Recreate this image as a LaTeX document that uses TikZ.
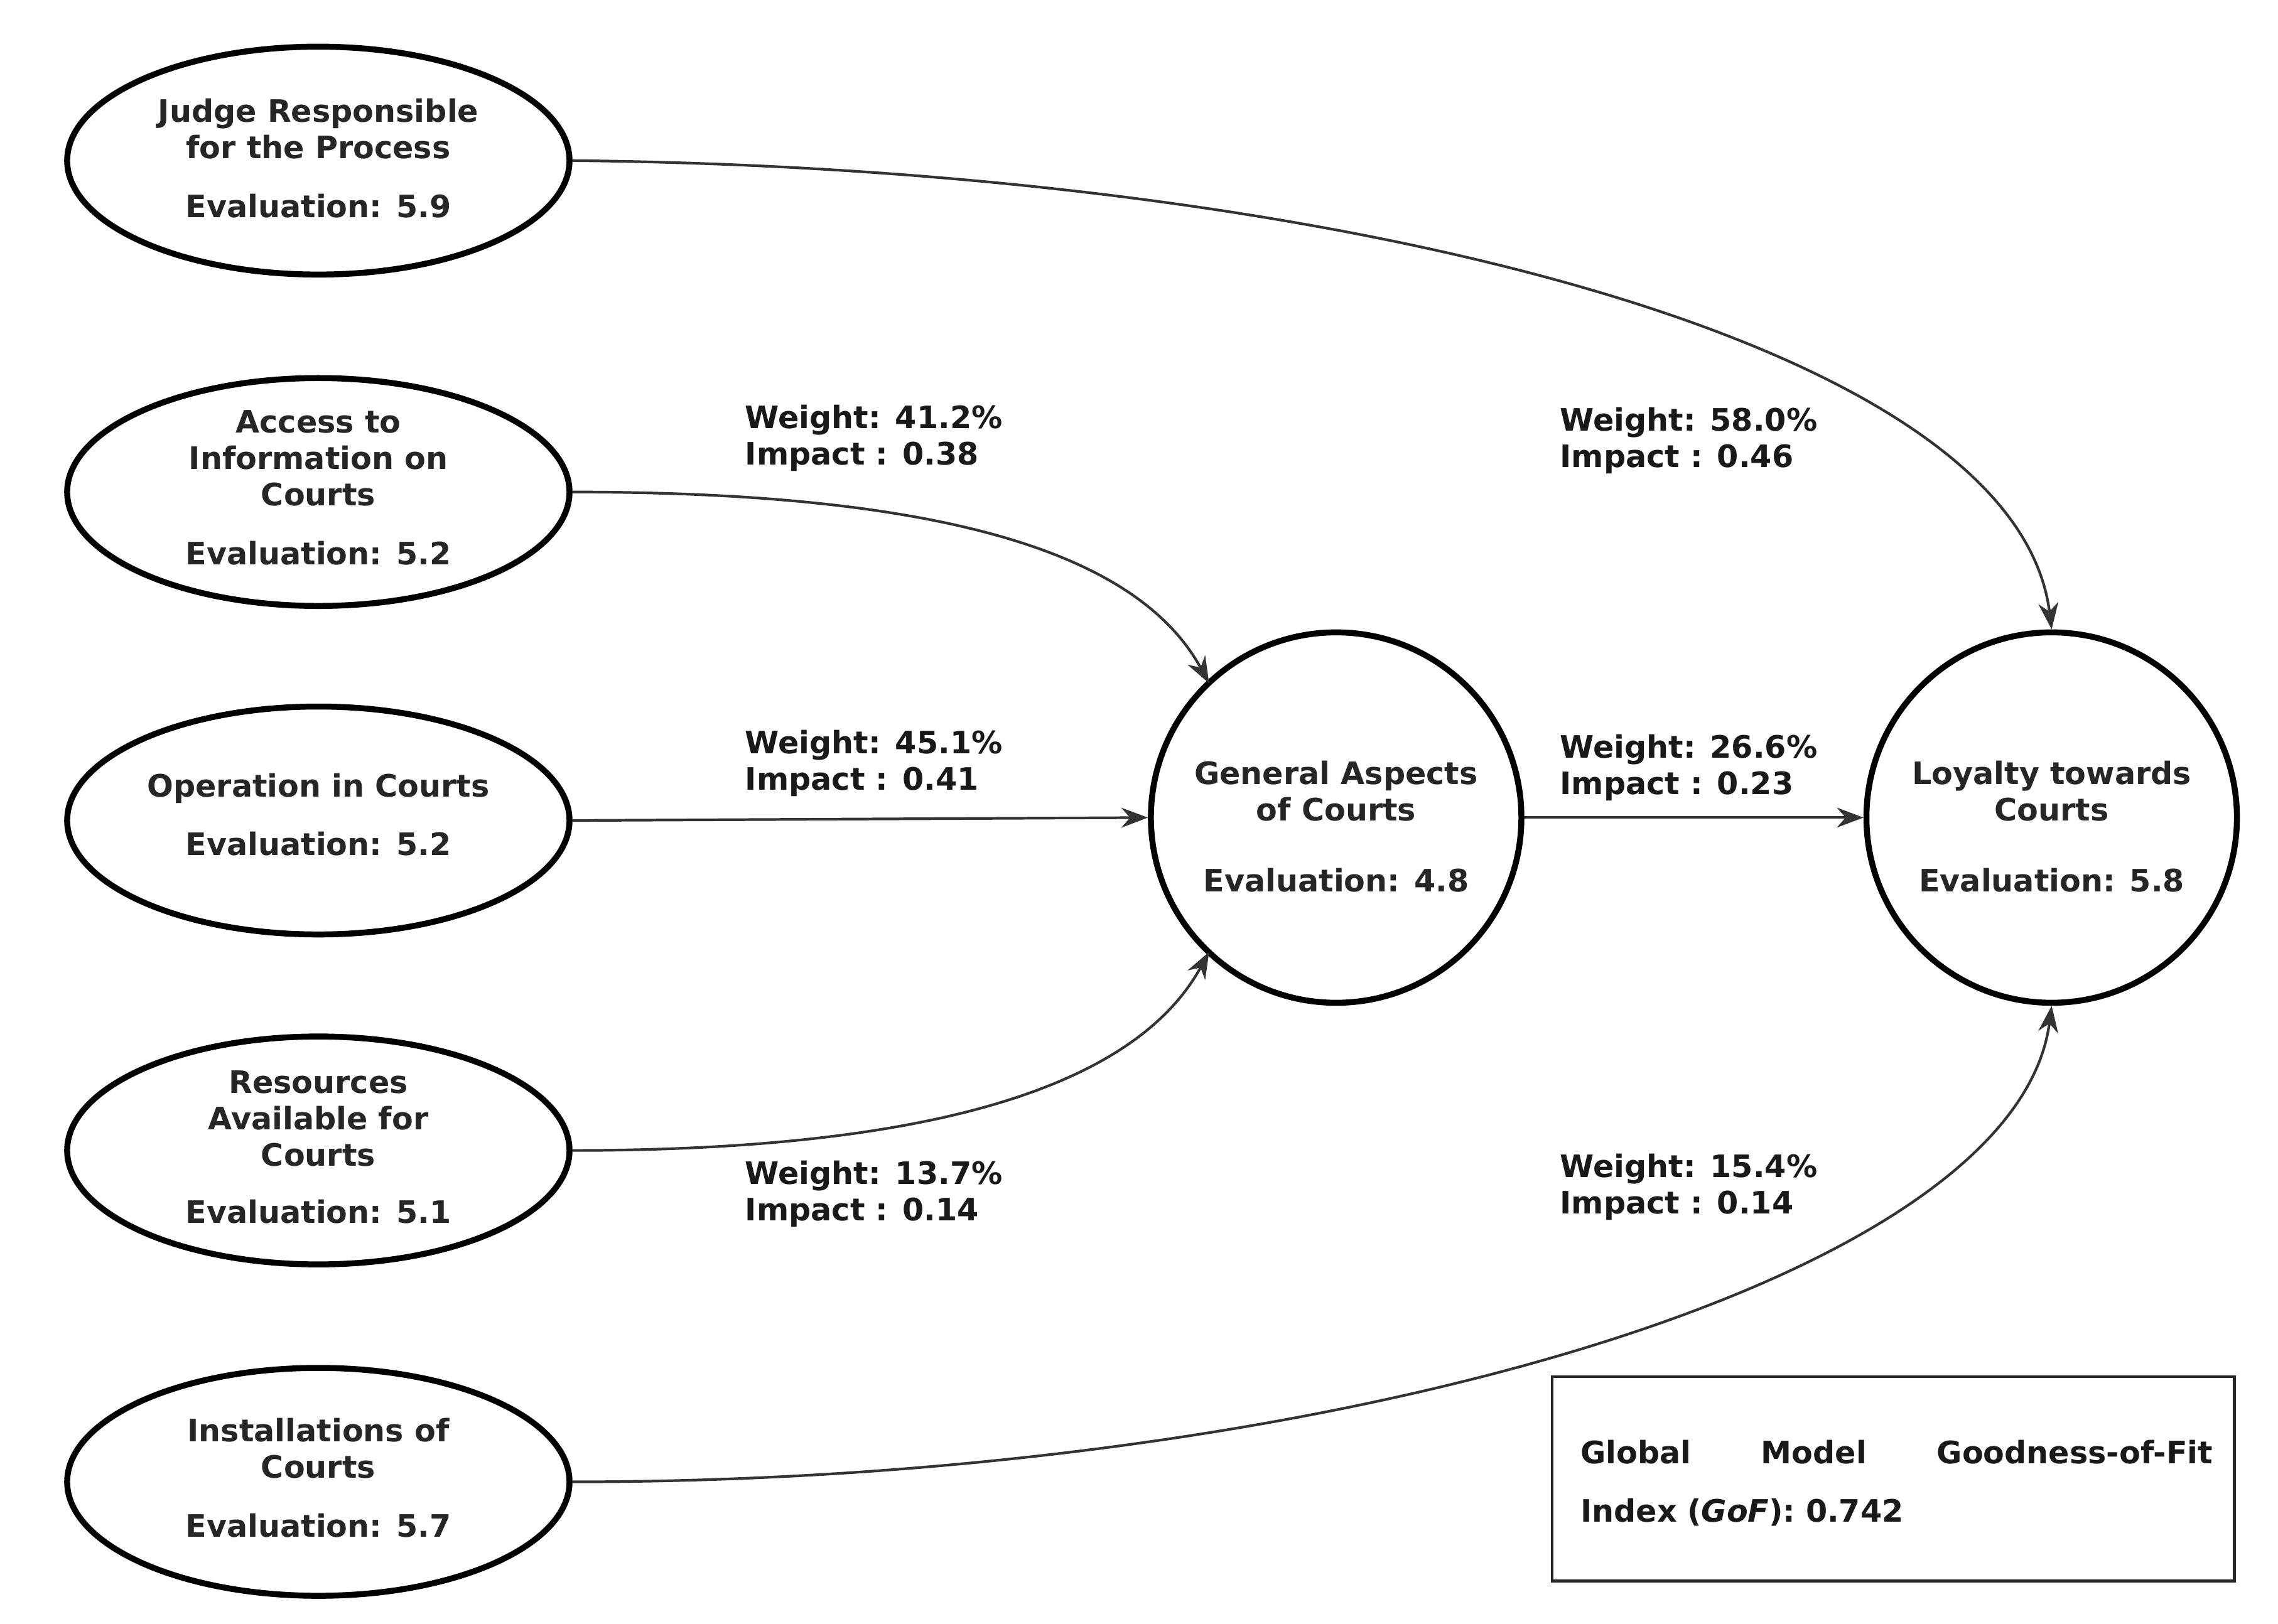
\documentclass[tikz,border=0pt]{standalone}
\usepackage{fontspec}
\setmainfont{DejaVu Sans}
\usetikzlibrary{shapes.geometric,arrows.meta}
\begin{document}
\begin{tikzpicture}[x=0.02326cm,y=-0.02326cm,
  ell/.style={draw=black,line width=2.7pt,ellipse,minimum width=344\pgflinewidth/2.7*0+8cm,minimum height=3.63cm,inner sep=0pt},
  circ/.style={draw=black,line width=2.7pt,circle,minimum size=5.9cm,inner sep=0pt},
  txt/.style={font=\bfseries\fontsize{14}{16.5}\selectfont,text=black!85,align=center,inner sep=0pt},
  lab/.style={font=\bfseries\fontsize{14}{16.5}\selectfont,text=black!90,anchor=west,inner sep=0pt},
  arr/.style={draw=black!80,line width=1.2pt,-{Stealth[length=12pt,width=9pt]}}]
\useasboundingbox (0,0) rectangle (1560,1112);
\node[ell] (j) at (218,110) {};
\node[ell] (a) at (218,337) {};
\node[ell] (o) at (218,562) {};
\node[ell] (r) at (218,788) {};
\node[ell] (i) at (218,1015) {};
\node[circ] (g) at (915,560) {};
\node[circ] (l) at (1405,560) {};
% texts
\node[txt] (jt) at (218,88) {Judge Responsible\\for the Process};
\node[txt] (je) at (218,141) {Evaluation: 5.9};
\node[txt] (at) at (218,314) {Access to\\Information on\\Courts};
\node[txt] (ae) at (218,379) {Evaluation: 5.2};
\node[txt] (ot) at (218,540) {Operation in Courts};
\node[txt] (oe) at (218,578) {Evaluation: 5.2};
\node[txt] (rt) at (218,766) {Resources\\Available for\\Courts};
\node[txt] (re) at (218,830) {Evaluation: 5.1};
\node[txt] (it) at (218,992) {Installations of\\Courts};
\node[txt] (ie) at (218,1045) {Evaluation: 5.7};
\node[txt] (gt) at (915,542) {General Aspects\\of Courts};
\node[txt] (ge) at (915,603) {Evaluation: 4.8};
\node[txt] (lt) at (1405,542) {Loyalty towards\\Courts};
\node[txt] (le) at (1405,603) {Evaluation: 5.8};
% arrows
\coordinate (ga) at (828,468);
\coordinate (gr) at (828,652);
\draw[arr] (j.east) .. controls (900,115) and (1380,230) .. (l.north);
\draw[arr] (a.east) .. controls (650,337) and (780,380) .. (ga);
\draw[arr] (o.east) -- (g.west);
\draw[arr] (r.east) .. controls (650,788) and (780,740) .. (gr);
\draw[arr] (g.east) -- (l.west);
\draw[arr] (i.east) .. controls (900,1015) and (1380,880) .. (l.south);
% labels
\node[lab,align=left] (w1) at (510,300) {Weight: 41.2\%\\Impact : 0.38};
\node[lab,align=left] (w2) at (510,523) {Weight: 45.1\%\\Impact : 0.41};
\node[lab,align=left] (w3) at (510,818) {Weight: 13.7\%\\Impact : 0.14};
\node[lab,align=left] (w4) at (1068,302) {Weight: 58.0\%\\Impact : 0.46};
\node[lab,align=left] (w5) at (1068,526) {Weight: 26.6\%\\Impact : 0.23};
\node[lab,align=left] (w6) at (1068,813) {Weight: 15.4\%\\Impact : 0.14};
% GoF box
\draw[black!85,line width=1.3pt] (1063,943) rectangle (1530,1083);
\node[lab,text width=433*0.02326cm,align=left] (gof) at (1082,1016) {Global\hfill Model\hfill Goodness-of-Fit\\[10pt]Index (\textit{GoF}): 0.742};
\end{tikzpicture}
\end{document}
